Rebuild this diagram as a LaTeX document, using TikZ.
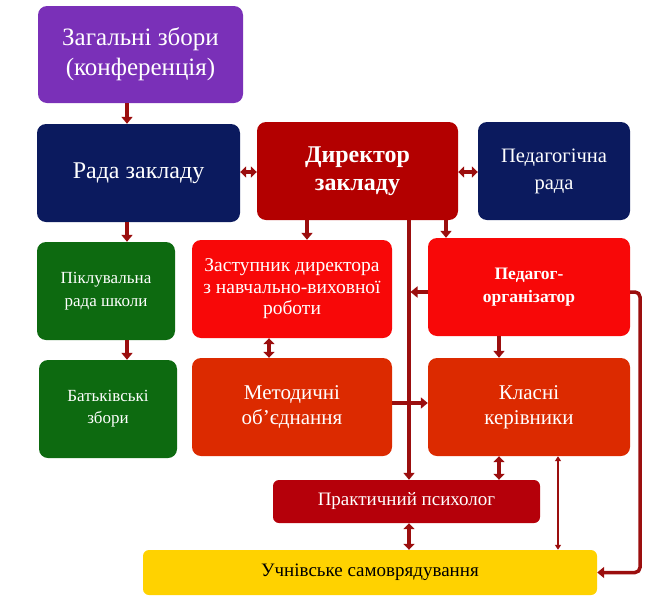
\documentclass[tikz,border=0pt]{standalone}
\usepackage{fontspec}
\setmainfont{Liberation Serif}
\usepackage{xcolor}
\usepackage{tikz}
\usetikzlibrary{arrows.meta,calc}
\definecolor{purp}{HTML}{7A30B8}
\definecolor{navy}{HTML}{0B1A5E}
\definecolor{dirRed}{HTML}{B30000}
\definecolor{brightRed}{HTML}{F80808}
\definecolor{orangeRed}{HTML}{DC2A00}
\definecolor{psyRed}{HTML}{B5000A}
\definecolor{darkGreen}{HTML}{0D6A10}
\definecolor{gold}{HTML}{FFD200}
\definecolor{arrowRed}{HTML}{9B0E0E}
\tikzset{
  orgBox/.style={rounded corners=9pt, text=white, align=center, inner sep=2pt},
  bigBox/.style={orgBox, minimum width=#1, minimum height=98pt},
  linkArrow/.style={draw=arrowRed, line width=3.5pt, -{Triangle[length=7pt,width=11pt]}},
  bothArrow/.style={draw=arrowRed, line width=3.5pt,
    {Triangle[length=6pt,width=11pt]}-{Triangle[length=6pt,width=11pt]}},
  thinArrow/.style={draw=arrowRed, line width=1.6pt,
    {Triangle[length=5pt,width=6pt]}-{Triangle[length=5pt,width=6pt]}},
}

\begin{document}
\begin{tikzpicture}[x=1pt, y=-1pt]
  \useasboundingbox (0,0) rectangle (654,600);

  % columns and rows of the connectors
  \coordinate (colL) at (127,0);
  \coordinate (colZ) at (307,0);
  \coordinate (colP) at (446,0);
  \coordinate (colV) at (409,0);
  \coordinate (colZM) at (269,0);
  \coordinate (colK) at (499,0);
  \coordinate (colT) at (558,0);
  \coordinate (colR) at (640,0);
  \coordinate (rowH) at (0,172);
  \coordinate (rowPO) at (0,292);
  \coordinate (rowM) at (0,403);

  \node[orgBox, fill=purp, minimum width=205pt, minimum height=97pt,
        font=\fontsize{25}{30}\selectfont] (gen) at (140.5,54.5) {Загальні збори\\(конференція)};
  \node[bigBox=203pt, fill=navy, font=\fontsize{24}{26}\selectfont] (rada) at (138.5,173) {Рада закладу};
  \node[bigBox=201pt, fill=dirRed, font=\fontsize{24}{28}\selectfont\bfseries] (dir) at (357.5,171) {Директор\\закладу};
  \node[bigBox=152pt, fill=navy, font=\fontsize{20.5}{27}\selectfont] (ped) at (554,171) {Педагогічна\\рада};
  \node[bigBox=138pt, fill=darkGreen, font=\fontsize{17}{23}\selectfont] (pk) at (106,291) {Піклувальна\\рада школи};
  \node[bigBox=138pt, fill=darkGreen, font=\fontsize{17}{22}\selectfont] (bz) at (108,409) {Батьківські\\збори};
  \node[bigBox=200pt, fill=brightRed, font=\fontsize{19.5}{21.5}\selectfont] (zast) at (292,289) {Заступник директора\\з навчально-виховної\\роботи};
  \node[bigBox=202pt, fill=brightRed, font=\fontsize{17.5}{23}\selectfont\bfseries] (po) at (529,287) {Педагог-\\організатор};
  \node[bigBox=200pt, fill=orangeRed, font=\fontsize{21}{25}\selectfont] (met) at (292,407) {Методичні\\об’єднання};
  \node[bigBox=202pt, fill=orangeRed, font=\fontsize{21}{25}\selectfont] (kl) at (529,407) {Класні\\керівники};
  \node[orgBox, fill=psyRed, minimum width=267pt, minimum height=43pt, rounded corners=6pt,
        font=\fontsize{19}{20}\selectfont] (psy) at (406.5,501.5) {Практичний психолог};
  \node[orgBox, fill=gold, text=black, minimum width=454pt, minimum height=45pt, rounded corners=6pt,
        font=\fontsize{19}{20}\selectfont] (uch) at (370,572.5) {Учнівське самоврядування};

  \draw[linkArrow] (gen.south -| colL) -- (rada.north -| colL);
  \draw[bothArrow] (rada.east |- rowH) -- (dir.west |- rowH);
  \draw[bothArrow] (dir.east |- rowH) -- (ped.west |- rowH);
  \draw[linkArrow] (rada.south -| colL) -- (pk.north -| colL);
  \draw[linkArrow] (pk.south -| colL) -- (bz.north -| colL);
  \draw[linkArrow] (dir.south -| colZ) -- (zast.north -| colZ);
  \draw[linkArrow] (dir.south -| colP) -- (po.north -| colP);
  \draw[bothArrow] (zast.south -| colZM) -- (met.north -| colZM);
  \draw[linkArrow] (met.east |- rowM) -- (kl.west |- rowM);
  \draw[linkArrow] (dir.south -| colV) -- (psy.north -| colV);
  \draw[linkArrow, shorten >=1.5pt] (po.west |- rowPO) -- (colV |- rowPO);
  \draw[linkArrow] (po.south -| colK) -- (kl.north -| colK);
  \draw[bothArrow] (kl.south -| colK) -- (psy.north -| colK);
  \draw[bothArrow] (psy.south -| colV) -- (uch.north -| colV);
  \draw[thinArrow] (kl.south -| colT) -- (uch.north -| colT);
  \draw[linkArrow, rounded corners=5pt] (po.east |- rowPO) -| (colR |- uch.east) -- (uch.east);
\end{tikzpicture}
\end{document}
